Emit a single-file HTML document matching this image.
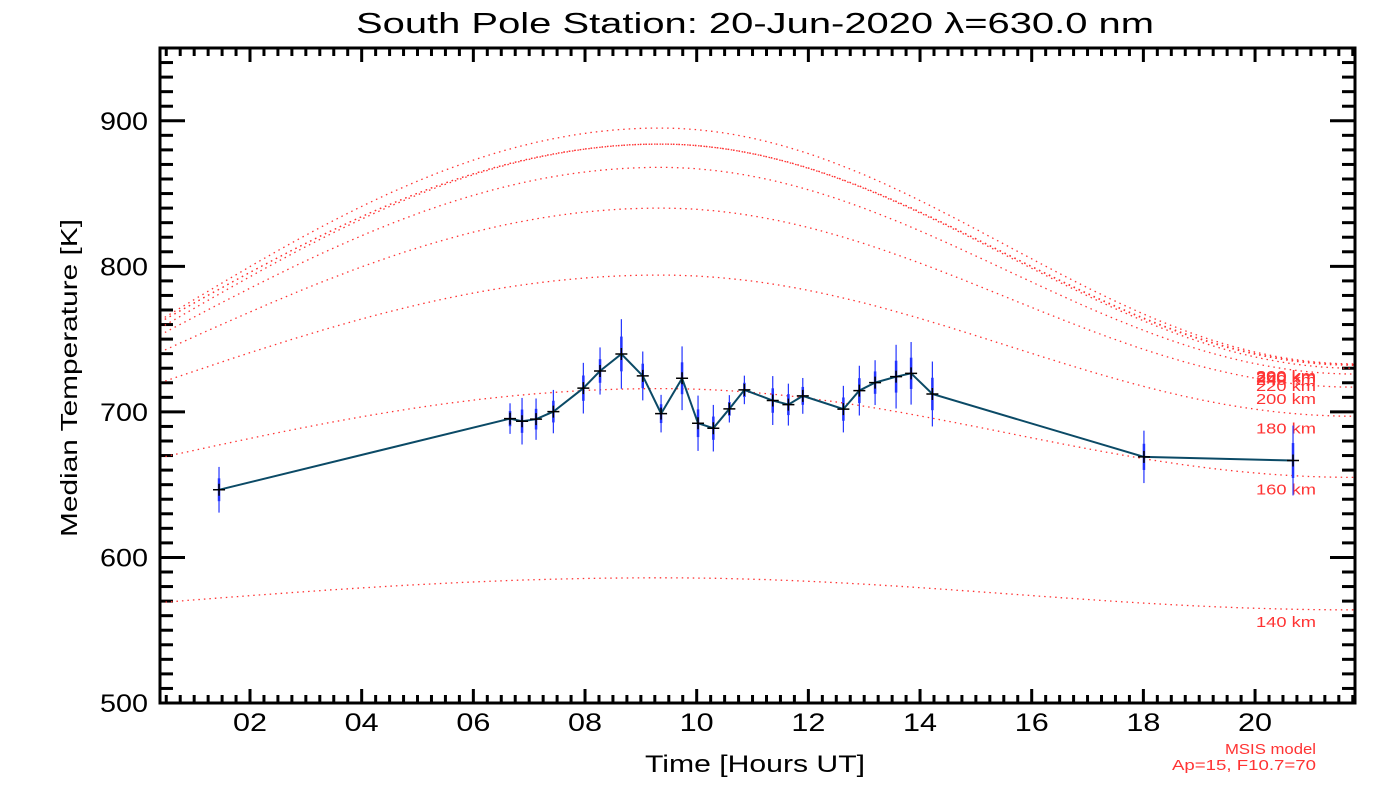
<!DOCTYPE html>
<html><head><meta charset="utf-8"><style>
body{margin:0;background:#fff;}
svg{display:block;font-family:"Liberation Sans","DejaVu Sans",sans-serif;}
</style></head><body>
<svg id="chart" width="1400" height="800" viewBox="0 0 1400 800" xmlns="http://www.w3.org/2000/svg">
<rect width="1400" height="800" fill="#fff"/>
<text x="755" y="33" font-size="29" text-anchor="middle" textLength="798" lengthAdjust="spacingAndGlyphs" fill="#000">South Pole Station: 20-Jun-2020 λ=630.0 nm</text>
<text transform="translate(77,378) rotate(-90)" font-size="23" text-anchor="middle" textLength="318" lengthAdjust="spacingAndGlyphs" fill="#000">Median Temperature [K]</text>
<text x="755" y="772" font-size="24" text-anchor="middle" textLength="220" lengthAdjust="spacingAndGlyphs" fill="#000">Time [Hours UT]</text>
<text x="1316" y="754" font-size="15" text-anchor="end" textLength="91" lengthAdjust="spacingAndGlyphs" fill="#ff3333">MSIS model</text>
<text x="1316" y="770" font-size="15" text-anchor="end" textLength="144" lengthAdjust="spacingAndGlyphs" fill="#ff3333">Ap=15, F10.7=70</text>
<g id="ticks"></g>
<g id="models"></g>
<g id="series"></g>
<rect x="160" y="48" width="1195" height="655" fill="none" stroke="#000" stroke-width="3"/>
</svg>
<script>
const hours = [1.445,6.657,6.872,7.123,7.433,7.970,8.269,8.651,9.034,9.362,9.738,10.024,10.298,10.585,10.854,11.362,11.642,11.900,12.627,12.913,13.195,13.571,13.840,14.221,18.01,20.68];
const temps = [646.5,695.4,693.6,695.0,700.2,716.3,728.1,739.8,724.7,698.8,723.1,692.2,688.8,702.1,715.1,707.8,705.0,711.0,701.9,714.6,720.1,724.2,726.5,712.3,669.1,666.6];
const errs = [15.7,10.5,16,14.2,14.9,17.4,16.2,23.9,16.8,12.9,21.9,19,16,9.4,9.8,16.8,14.4,12.3,16,17.1,15.4,21.9,21.5,22.3,18,24];
const altitudes = [140,160,180,200,220,240,260,280,300];
const modelStart = [569,668.5,720,741,752.8,757.6,761.7,761.7,763];
const modelPeak = [586,716,794,840,868,884,884,884,895];
const modelEnd = [564,655,697,717,726,730,732,732.5,733];
const xTicks = [2,4,6,8,10,12,14,16,18,20];
const xTickLabels = ["02","04","06","08","10","12","14","16","18","20"];
const yTicks = [500,600,700,800,900];

const X0=0.388, X1=21.79, PX0=160, PX1=1355;
const Y0=500, Y1=950, PY0=703, PY1=48;
const sx = h => PX0 + (h-X0)/(X1-X0)*(PX1-PX0);
const sy = v => PY0 - (v-Y0)/(Y1-Y0)*(PY0-PY1);
const NS="http://www.w3.org/2000/svg";
function mk(tag, attrs, parent){const e=document.createElementNS(NS,tag);for(const k in attrs)e.setAttribute(k,attrs[k]);parent.appendChild(e);return e;}

const tg=document.getElementById('ticks');
for(let m=Math.ceil(X0*4);m<=Math.floor(X1*4);m++){
  const h=m/4, x=sx(h), major=(m%8===0);
  const len=major?14:8;
  const t1=mk('line',{x1:x,y1:PY0,x2:x,y2:PY0-len,stroke:'#000','stroke-width':3},tg);
  
  
  const t2=mk('line',{x1:x,y1:PY1,x2:x,y2:PY1+len,stroke:'#000','stroke-width':3},tg);
  
  
}
xTicks.forEach((h,i)=>{
  const t=mk('text',{x:sx(h),y:731,'font-size':25,'text-anchor':'middle',textLength:34,lengthAdjust:'spacingAndGlyphs',fill:'#000'},tg);
  t.textContent=xTickLabels[i];
  
  
});
for(let v=Y0;v<=Y1;v+=10){
  const y=sy(v), major=(v%100===0), len=major?25:13;
  const t1=mk('line',{x1:PX0,y1:y,x2:PX0+len,y2:y,stroke:'#000','stroke-width':3},tg);
  
  
  const t2=mk('line',{x1:PX1,y1:y,x2:PX1-len,y2:y,stroke:'#000','stroke-width':3},tg);
  
  
}
yTicks.forEach(v=>{
  const t=mk('text',{x:148,y:sy(v)+9,'font-size':25,'text-anchor':'end',textLength:48,lengthAdjust:'spacingAndGlyphs',fill:'#000'},tg);
  t.textContent=String(v);
  
  
});

const mg=document.getElementById('models');
const HP=9.34;
altitudes.forEach((alt,i)=>{
  let d='';
  for(let k=0;k<=200;k++){
    const h=X0+(X1-X0)*k/200;
    let v;
    if(h<=HP){const f=(h-X0)/(HP-X0);v=modelStart[i]+(modelPeak[i]-modelStart[i])*Math.sin(Math.PI*f/2);}
    else{const f=(h-HP)/(X1-HP);v=modelPeak[i]+(modelEnd[i]-modelPeak[i])*(1-Math.cos(Math.PI*f))/2;}
    d+=(k?'L':'M')+sx(h).toFixed(1)+' '+sy(v).toFixed(1);
  }
  const p=mk('path',{d:d,fill:'none',stroke:'#ff3333','stroke-width':1.3,'stroke-dasharray':'1.5 4'},mg);
  
  
  const t=mk('text',{x:1256,y:sy(modelEnd[i])+17,'font-size':15,textLength:60,lengthAdjust:'spacingAndGlyphs',fill:'#ff3333'},mg);
  t.textContent=alt+' km';
  
  
});

const sg=document.getElementById('series');
hours.forEach((h,i)=>{
  const x=sx(h);
  const e1=mk('line',{x1:x,y1:sy(temps[i]+errs[i]),x2:x,y2:sy(temps[i]-errs[i]),stroke:'#2233ff','stroke-width':1.2},sg);
  
  
  const e2=mk('line',{x1:x,y1:sy(temps[i]+errs[i]*0.5),x2:x,y2:sy(temps[i]-errs[i]*0.5),stroke:'#2233ff','stroke-width':2.5},sg);
  
  
});
const pl=mk('polyline',{points:hours.map((h,i)=>sx(h).toFixed(1)+','+sy(temps[i]).toFixed(1)).join(' '),fill:'none',stroke:'#0b4a66','stroke-width':2},sg);


hours.forEach((h,i)=>{
  const x=sx(h), y=sy(temps[i]);
  const c=mk('path',{d:`M${x-6} ${y}H${x+6}M${x} ${y-6}V${y+6}`,stroke:'#000','stroke-width':1.5},sg);
  
  
});
</script>
</body></html>
